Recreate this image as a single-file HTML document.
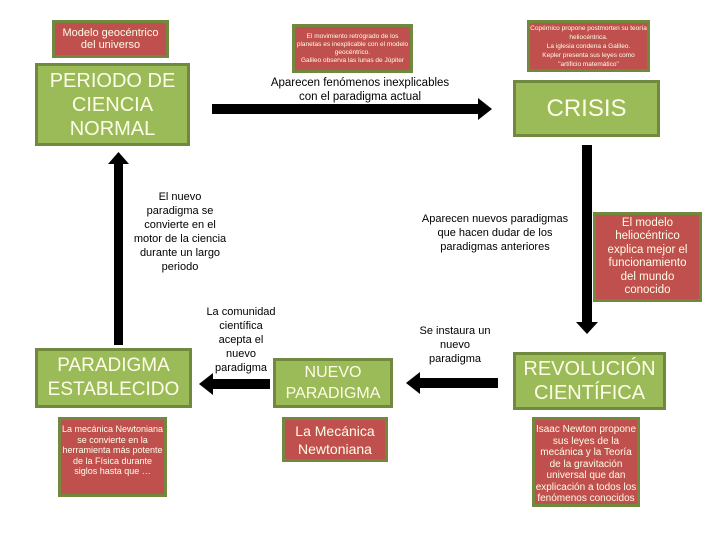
<!DOCTYPE html>
<html><head><meta charset="utf-8"><style>
body{margin:0;width:720px;height:540px;background:#fff;position:relative;overflow:hidden;font-family:"Liberation Sans",sans-serif;}
.b{position:absolute;box-sizing:border-box;border:3px solid #71893f;display:flex;align-items:center;justify-content:center;text-align:center;color:#fdfde8;}
.g{background:#9bbb59;}
.r{background:#c0504d;}
.t{position:absolute;text-align:center;color:#000;font-size:11px;line-height:14px;}
.k{position:absolute;background:#000;}
</style></head><body>
<div class="b r" style="left:52px;top:20px;width:117px;height:38px;font-size:11px;line-height:12px;">Modelo geocéntrico<br>del universo</div>
<div class="b g" style="left:35px;top:63px;width:155px;height:83px;font-size:20px;line-height:24px;">PERIODO DE<br>CIENCIA<br>NORMAL</div>
<div class="b r" style="left:292px;top:24px;width:121px;height:49px;font-size:6.5px;line-height:8px;">El movimiento retrógrado de los planetas es inexplicable con el modelo geocéntrico.<br>Galileo observa las lunas de Júpiter</div>
<div class="b r" style="left:527px;top:20px;width:123px;height:52px;font-size:6.5px;line-height:9px;">Copérnico propone postmorten su teoría heliocéntrica.<br>La iglesia condena a Galileo.<br>Kepler presenta sus leyes como "artificio matemático"</div>
<div class="b g" style="left:513px;top:80px;width:147px;height:57px;font-size:24px;">CRISIS</div>
<div class="t" style="left:260px;top:76px;width:200px;font-size:11.5px;">Aparecen fenómenos inexplicables<br>con el paradigma actual</div>
<div class="k" style="left:212px;top:104px;width:270px;height:10px;"></div>
<svg style="position:absolute;left:478px;top:98px" width="16" height="22"><polygon points="0,0 14,11 0,22" fill="#000"/></svg>
<div class="k" style="left:582px;top:145px;width:10px;height:180px;"></div>
<svg style="position:absolute;left:576px;top:322px" width="22" height="12"><polygon points="0,0 22,0 11,12" fill="#000"/></svg>
<div class="b r" style="left:593px;top:212px;width:109px;height:90px;font-size:11.5px;line-height:13.5px;">El modelo<br>heliocéntrico<br>explica mejor el<br>funcionamiento<br>del mundo<br>conocido</div>
<div class="t" style="left:410px;top:212px;width:170px;">Aparecen nuevos paradigmas<br>que hacen dudar de los<br>paradigmas anteriores</div>
<div class="b g" style="left:513px;top:352px;width:153px;height:58px;font-size:20px;line-height:24px;">REVOLUCIÓN<br>CIENTÍFICA</div>
<div class="b r" style="left:532px;top:417px;width:108px;height:90px;font-size:10px;line-height:11.5px;align-items:flex-start;padding-top:4px;">Isaac Newton propone sus leyes de la mecánica y la Teoría de la gravitación universal que dan explicación a todos los fenómenos conocidos</div>
<div class="t" style="left:410px;top:324px;width:90px;">Se instaura un<br>nuevo<br>paradigma</div>
<div class="k" style="left:418px;top:378px;width:80px;height:10px;"></div>
<svg style="position:absolute;left:406px;top:372px" width="14" height="22"><polygon points="14,0 0,11 14,22" fill="#000"/></svg>
<div class="b g" style="left:273px;top:358px;width:120px;height:50px;font-size:16px;line-height:21px;">NUEVO<br>PARADIGMA</div>
<div class="b r" style="left:282px;top:417px;width:106px;height:45px;font-size:14px;line-height:18px;">La Mecánica<br>Newtoniana</div>
<div class="t" style="left:196px;top:305px;width:90px;">La comunidad<br>científica<br>acepta el<br>nuevo<br>paradigma</div>
<div class="k" style="left:212px;top:379px;width:58px;height:10px;"></div>
<svg style="position:absolute;left:199px;top:373px" width="14" height="22"><polygon points="14,0 0,11 14,22" fill="#000"/></svg>
<div class="b g" style="left:35px;top:348px;width:157px;height:60px;font-size:19px;line-height:24px;">PARADIGMA<br>ESTABLECIDO</div>
<div class="b r" style="left:58px;top:417px;width:109px;height:80px;font-size:9px;line-height:10.5px;align-items:flex-start;padding-top:4px;">La mecánica Newtoniana se convierte en la herramienta más potente de la Física durante siglos hasta que …</div>
<div class="k" style="left:114px;top:162px;width:9px;height:183px;"></div>
<svg style="position:absolute;left:108px;top:152px" width="21" height="12"><polygon points="10.5,0 21,12 0,12" fill="#000"/></svg>
<div class="t" style="left:125px;top:190px;width:110px;">El nuevo<br>paradigma se<br>convierte en el<br>motor de la ciencia<br>durante un largo<br>periodo</div>
</body></html>
